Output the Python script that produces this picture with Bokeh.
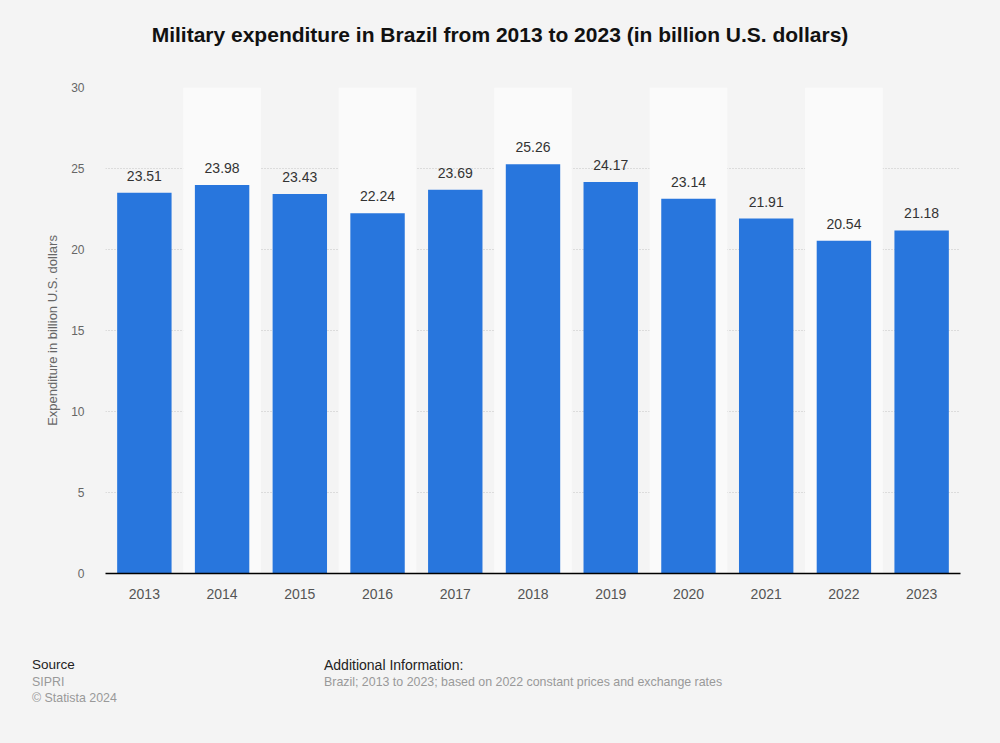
from bokeh.plotting import figure
from bokeh.layouts import column
from bokeh.models import Range1d, FactorRange, ColumnDataSource, LabelSet, FixedTicker, Div
from bokeh.core.properties import value
from bokeh.embed import file_html
from bokeh.resources import INLINE

years = ["2013", "2014", "2015", "2016", "2017", "2018", "2019", "2020", "2021", "2022", "2023"]
values = [23.51, 23.98, 23.43, 22.24, 23.69, 25.26, 24.17, 23.14, 21.91, 20.54, 21.18]
y_ticks = [0, 5, 10, 15, 20, 25, 30]
title_text = "Military expenditure in Brazil from 2013 to 2023 (in billion U.S. dollars)"
source_lines = ["SIPRI", "© Statista 2024"]
info_text = "Brazil; 2013 to 2023; based on 2022 constant prices and exchange rates"

FONT = "Liberation Sans"
BG = "#f4f4f4"
W = 1000
H_HEAD, H_MAIN, H_FOOT = 62, 593, 88


def span(left, cy, t, size, color, weight="normal", width=None, align="left"):
    lh = 20
    w = f"width:{width}px;" if width else "white-space:nowrap;"
    return (f'<div style="position:absolute;left:{left}px;top:{cy - lh / 2}px;{w}'
            f'line-height:{lh}px;font-size:{size};color:{color};font-weight:{weight};'
            f'text-align:{align};font-family:\'{FONT}\';">{t}</div>')


def box(h, inner):
    return (f'<div style="position:relative;width:{W}px;height:{h}px;background:{BG};'
            f'overflow:hidden;margin:0;padding:0;">{inner}</div>')


head = Div(text=box(H_HEAD, span(0, 35, title_text, "21px", "#111111", "bold", W, "center")),
           width=W, height=H_HEAD, margin=0, styles={"background": BG})

p = figure(width=W, height=H_MAIN, output_backend="svg", toolbar_location=None,
           x_range=FactorRange(*years), y_range=Range1d(0, 30),
           background_fill_color=BG, border_fill_color=BG,
           min_border_left=105, min_border_right=40, min_border_top=25, min_border_bottom=82)
p.outline_line_color = None

band_x = [y for i, y in enumerate(years) if i % 2 == 1]
p.vbar(x=band_x, top=30, bottom=0, width=1.0, fill_color="#fafafa", line_color=None)

p.xgrid.grid_line_color = None
p.ygrid.grid_line_color = "#c4c4c4"
p.ygrid.grid_line_dash = "1 2"
p.ygrid.ticker = FixedTicker(ticks=y_ticks)

src = ColumnDataSource(dict(x=years, top=values, lbl=[f"{v:.2f}" for v in values]))
p.vbar(x="x", top="top", width=0.7, source=src, fill_color="#2876dd", line_color=None)

labels = LabelSet(x="x", y="top", text="lbl", source=src, text_align="center",
                  text_baseline="bottom", y_offset=12, text_font=value(FONT),
                  text_font_size="14px", text_color="#333333")
p.add_layout(labels)

p.yaxis.ticker = FixedTicker(ticks=y_ticks)
p.yaxis.axis_line_color = None
p.yaxis.major_tick_line_color = None
p.yaxis.minor_tick_line_color = None
p.yaxis.major_label_text_font = FONT
p.yaxis.major_label_text_font_size = "12px"
p.yaxis.major_label_text_color = "#666666"
p.yaxis.major_label_standoff = 15
p.yaxis.axis_label = "Expenditure in billion U.S. dollars"
p.yaxis.axis_label_text_font = FONT
p.yaxis.axis_label_text_font_size = "13px"
p.yaxis.axis_label_text_font_style = "normal"
p.yaxis.axis_label_text_color = "#666666"
p.yaxis.axis_label_standoff = 8

p.xaxis.axis_line_color = "#000000"
p.xaxis.axis_line_width = 1.5
p.xaxis.major_tick_line_color = None
p.xaxis.minor_tick_line_color = None
p.xaxis.major_label_text_font = FONT
p.xaxis.major_label_text_font_size = "14px"
p.xaxis.major_label_text_color = "#555555"
p.xaxis.major_label_standoff = 9

foot_html = (span(32, 10, "Source", "13.5px", "#222222")
             + span(32, 27, source_lines[0], "12.4px", "#999999")
             + span(32, 43, source_lines[1], "12.4px", "#999999")
             + span(324, 10, "Additional Information:", "14px", "#222222")
             + span(324, 27, info_text, "12.4px", "#999999"))
foot = Div(text=box(H_FOOT, foot_html), width=W, height=H_FOOT, margin=0,
           styles={"background": BG})

layout = column(head, p, foot, spacing=0, styles={"background": BG})
open("out.html", "w").write(file_html(layout, INLINE))
